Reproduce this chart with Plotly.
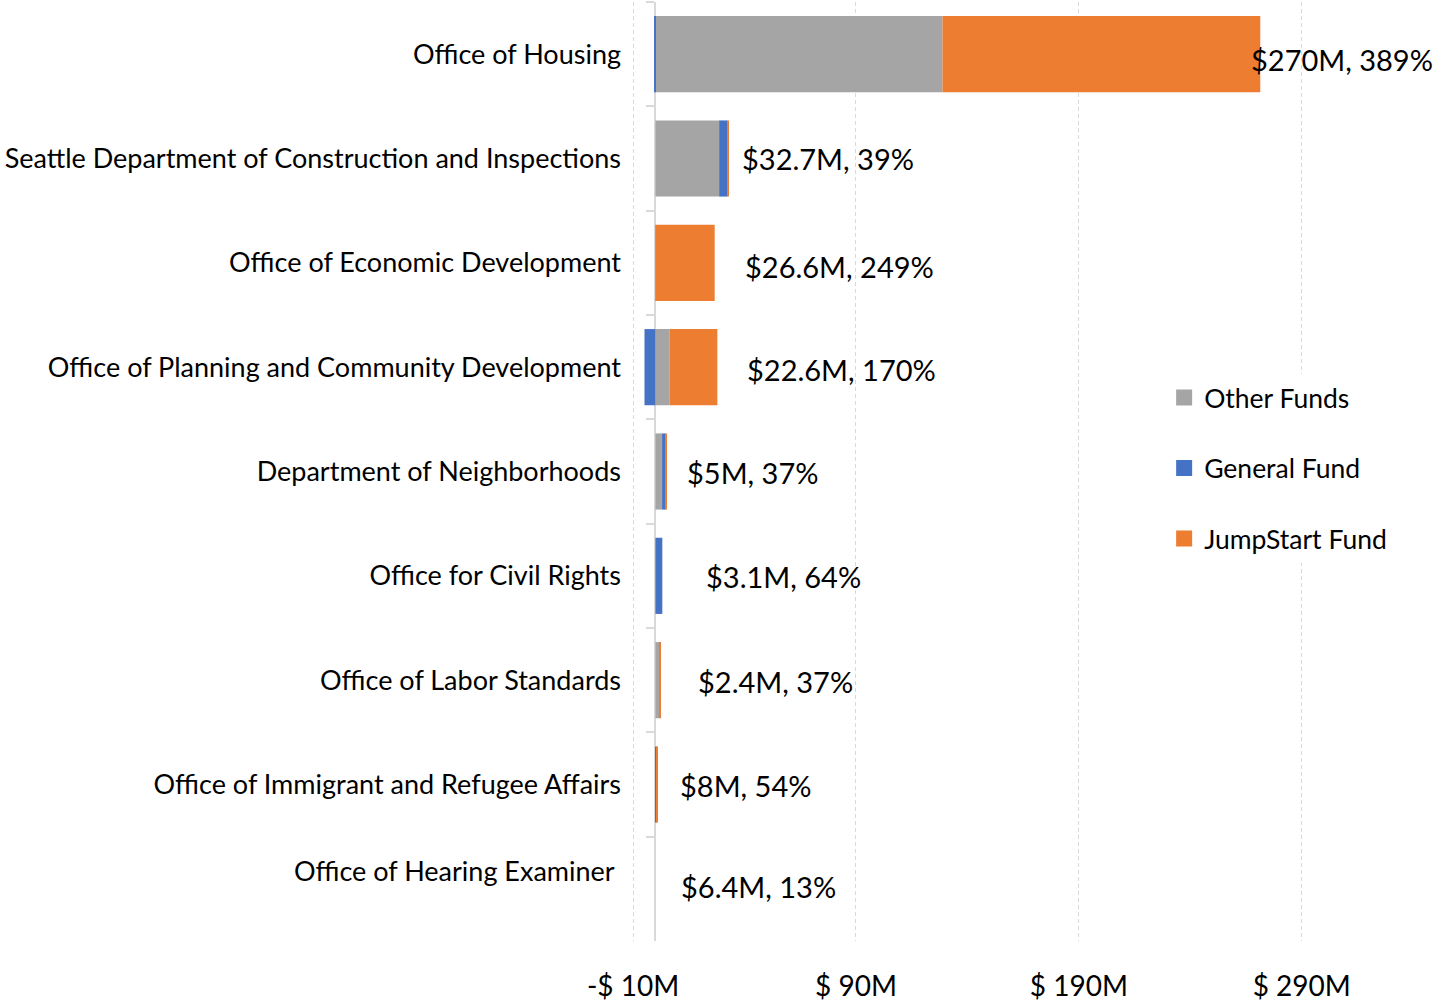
import plotly.graph_objects as go

categories = [
    "Office of Housing",
    "Seattle Department of Construction and Inspections",
    "Office of Economic Development",
    "Office of Planning and Community Development",
    "Department of Neighborhoods",
    "Office for Civil Rights",
    "Office of Labor Standards",
    "Office of Immigrant and Refugee Affairs",
    "Office of Hearing Examiner",
]
other_funds = [128.8, 28.6, 0.2, 6.3, 3.0, 0.0, 1.7, 0.0, 0.0]
general_fund = [-0.5, 3.7, 0.0, -4.9, 1.6, 3.1, 0.0, 0.6, 0.0]
jumpstart_fund = [142.6, 0.5, 26.4, 21.5, 0.4, 0.0, 0.7, 0.4, 0.0]
data_labels = ["$270M, 389%", "$32.7M, 39%", "$26.6M, 249%", "$22.6M, 170%",
               "$5M, 37%", "$3.1M, 64%", "$2.4M, 37%", "$8M, 54%", "$6.4M, 13%"]
tick_vals = [-10, 90, 190, 290]
tick_text = ["-$ 10M", "$ 90M", "$ 190M", "$ 290M"]

# layout-only tweaks (pixel shifts of the data labels)
label_xshift = [-11, 11, 28, 28, 18, 42, 35, 20, 24]
label_yshift = [-5, 0, -4, -2, -1, -1, -1, -1, 2]

FONT = "Lato"
C_OTHER, C_GEN, C_JS = "#A5A5A5", "#4472C4", "#ED7D31"

disp_cats = list(categories)
disp_cats[-1] = "Office of Hearing Examiner\u00a0<br>\u00a0"

fig = go.Figure()
for name, vals, col in [("Other Funds", other_funds, C_OTHER),
                        ("General Fund", general_fund, C_GEN),
                        ("JumpStart Fund", jumpstart_fund, C_JS)]:
    fig.add_trace(go.Bar(y=disp_cats, x=vals, orientation="h", name=name,
                         marker=dict(color=col, line=dict(width=0)),
                         showlegend=False, hoverinfo="x+name"))
for name, col in [("Other Funds", C_OTHER), ("General Fund", C_GEN),
                  ("JumpStart Fund", C_JS)]:
    fig.add_trace(go.Scatter(x=[None], y=[None], mode="markers", name=name,
                             legendgroup=name,
                             marker=dict(symbol="square", size=16, color=col)))

xmin, xmax = -10.5, 300
for i, lab in enumerate(data_labels):
    pos_end = sum(v for v in (other_funds[i], general_fund[i], jumpstart_fund[i]) if v > 0)
    fig.add_annotation(x=pos_end, y=disp_cats[i], text=lab, showarrow=False,
                       xanchor="left", yanchor="middle", xshift=label_xshift[i],
                       yshift=label_yshift[i],
                       font=dict(family=FONT, size=29, color="#000000"))

fig.update_layout(
    width=1435, height=1004,
    margin=dict(l=632, r=111, t=2, b=61),
    barmode="relative", bargap=0.27,
    plot_bgcolor="white", paper_bgcolor="white",
    font=dict(family=FONT, size=27, color="#000000"),
    legend=dict(x=0.769, y=0.604, xanchor="left", yanchor="top",
                bgcolor="white", font=dict(family=FONT, size=26.5),
                tracegroupgap=33, traceorder="grouped", itemsizing="trace"),
    xaxis=dict(range=[xmin, xmax], tickvals=tick_vals, ticktext=tick_text,
               showgrid=True, gridcolor="#D9D9D9", griddash="4px,3px", gridwidth=1,
               zeroline=False, showline=False, ticks="",
               tickfont=dict(family=FONT, size=28), ticklabelstandoff=26),
    yaxis=dict(autorange="reversed", anchor="free",
               position=(0 - xmin) / (xmax - xmin),
               showline=True, linecolor="#D9D9D9", linewidth=2,
               ticks="outside", tickson="boundaries", ticklen=8,
               tickcolor="#D9D9D9", tickwidth=1.5, layer="below traces",
               showgrid=False, tickfont=dict(family=FONT, size=27),
               ticklabelstandoff=28),
)

fig.write_html("out.html", config={"displayModeBar": False},
               post_script="document.body.style.margin='0';document.body.style.padding='0';")
